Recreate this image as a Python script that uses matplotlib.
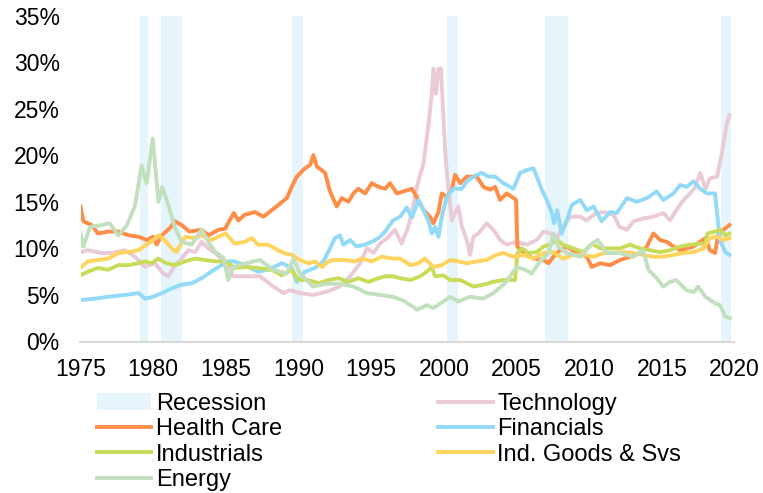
import matplotlib
matplotlib.use("Agg")
import matplotlib.pyplot as plt
from matplotlib.patches import Patch
from matplotlib.lines import Line2D

plt.rcParams['font.family'] = ['Liberation Sans', 'DejaVu Sans']

# Recession periods (as positioned on the chart's date axis)
recessions = [(1979.09, 1979.65), (1980.54, 1981.99), (1989.56, 1990.31),
              (2000.22, 2000.98), (2006.97, 2008.55), (2019.08, 2019.77)]

tech_x = [1975.0, 1975.5, 1976.46, 1977.15, 1978.06, 1978.75, 1979.44, 1980.13, 1980.7, 1981.04,
          1981.5, 1981.96, 1982.42, 1982.88, 1983.34, 1983.8, 1984.26, 1984.7, 1985.17, 1985.5,
          1986.4, 1987.35, 1988.27, 1988.96, 1989.4, 1990.1, 1991.0, 1991.94, 1992.85, 1993.55,
          1994.24, 1994.7, 1995.15, 1995.6, 1996.2, 1996.64, 1997.1, 1997.5, 1997.8, 1998.14,
          1998.6, 1998.93, 1999.17, 1999.28, 1999.46, 1999.63, 1999.8, 2000.1, 2000.3, 2000.55,
          2000.77, 2001.0, 2001.24, 2001.58, 2001.8, 2002.03, 2002.38, 2002.95, 2003.4, 2003.87,
          2004.33, 2005.0, 2005.7, 2006.4, 2006.85, 2007.3, 2007.77, 2008.2, 2008.7, 2009.4,
          2009.8, 2010.5, 2011.0, 2011.67, 2012.1, 2012.6, 2013.05, 2013.7, 2014.4, 2015.1,
          2015.57, 2016.0, 2016.5, 2016.95, 2017.3, 2017.64, 2018.0, 2018.3, 2018.8, 2019.13,
          2019.47, 2019.65]
tech_y = [9.6, 9.8, 9.5, 9.5, 9.8, 9.1, 8.0, 8.4, 7.3, 7.0,
          8.2, 8.9, 9.8, 9.6, 10.7, 10.0, 9.5, 8.9, 8.2, 7.0,
          7.0, 7.0, 5.9, 5.2, 5.5, 5.2, 5.0, 5.35, 5.9, 7.0,
          8.4, 10.0, 9.5, 10.5, 11.25, 12.0, 10.5, 12.1, 13.8, 16.6,
          19.1, 23.1, 26.6, 29.3, 26.6, 29.3, 29.3, 20.2, 16.6, 13.0,
          13.8, 14.5, 12.3, 10.9, 9.3, 11.25, 11.6, 12.7, 12.0, 10.9,
          10.4, 10.7, 10.4, 10.9, 11.8, 11.6, 11.1, 12.3, 13.4, 13.4,
          13.0, 13.8, 13.9, 13.6, 12.3, 12.0, 12.9, 13.2, 13.4, 13.8,
          13.0, 14.1, 15.2, 15.9, 16.6, 18.1, 16.4, 17.5, 17.7, 20.2,
          23.4, 24.3]

hc_x = [1975.0, 1975.2, 1975.77, 1976.2, 1976.9, 1977.6, 1978.3, 1978.98, 1979.55, 1980.0,
        1980.24, 1980.6, 1981.16, 1981.5, 1981.96, 1982.5, 1983.34, 1983.8, 1984.5, 1984.95,
        1985.4, 1985.55, 1985.86, 1986.3, 1987.0, 1987.58, 1988.16, 1988.73, 1989.2, 1989.53,
        1989.88, 1990.45, 1990.8, 1991.02, 1991.26, 1991.83, 1992.17, 1992.63, 1992.98, 1993.43,
        1993.78, 1994.12, 1994.58, 1995.04, 1995.5, 1995.96, 1996.3, 1996.76, 1997.2, 1997.8,
        1998.14, 1998.6, 1999.05, 1999.28, 1999.63, 1999.86, 2000.2, 2000.55, 2000.77, 2001.12,
        2001.58, 2002.27, 2002.72, 2003.18, 2003.53, 2003.87, 2004.33, 2004.79, 2004.97, 2005.06,
        2005.47, 2006.16, 2006.85, 2007.2, 2007.54, 2008.0, 2008.46, 2009.15, 2009.84, 2010.18,
        2010.75, 2011.44, 2012.13, 2012.8, 2013.5, 2013.97, 2014.42, 2014.88, 2015.34, 2015.8,
        2016.26, 2016.72, 2017.18, 2017.64, 2018.0, 2018.3, 2018.66, 2018.9, 2019.24, 2019.65]
hc_y = [14.5, 12.9, 12.5, 11.6, 11.8, 11.8, 11.4, 11.25, 10.9, 11.25,
        10.4, 11.4, 12.2, 12.9, 12.5, 11.8, 12.0, 11.4, 12.0, 12.1,
        13.4, 13.8, 13.0, 13.6, 13.9, 13.4, 14.1, 14.8, 15.4, 16.6,
        17.7, 18.6, 18.95, 20.0, 18.8, 18.1, 16.1, 14.5, 15.4, 15.0,
        15.9, 16.4, 15.9, 17.0, 16.6, 16.4, 17.0, 15.9, 16.1, 16.4,
        15.5, 14.1, 13.4, 12.7, 13.9, 15.9, 15.5, 16.3, 17.9, 17.0,
        17.7, 17.7, 16.6, 16.3, 16.6, 15.2, 15.9, 15.4, 15.2, 10.2,
        9.5, 8.9, 8.75, 8.4, 9.1, 9.8, 10.2, 9.5, 9.1, 8.0,
        8.4, 8.2, 8.75, 9.1, 9.5, 10.2, 11.6, 10.9, 10.7, 10.2,
        9.8, 10.0, 10.2, 10.7, 11.1, 9.8, 9.5, 11.6, 12.0, 12.5]

fin_x = [1975.0, 1976.0, 1976.9, 1978.06, 1979.0, 1979.44, 1980.0, 1980.6, 1981.27, 1981.96,
         1982.65, 1983.34, 1984.0, 1984.7, 1985.17, 1985.6, 1986.3, 1987.2, 1987.9, 1988.85,
         1989.53, 1989.88, 1990.45, 1991.14, 1991.71, 1992.17, 1992.5, 1992.86, 1993.08, 1993.55,
         1994.0, 1994.58, 1995.04, 1995.5, 1995.96, 1996.5, 1997.0, 1997.45, 1997.8, 1998.25,
         1998.6, 1998.93, 1999.17, 1999.4, 1999.63, 1999.86, 2000.2, 2000.66, 2001.24, 2001.58,
         2002.03, 2002.6, 2003.07, 2003.53, 2004.1, 2004.79, 2005.25, 2005.7, 2006.16, 2006.4,
         2006.74, 2007.08, 2007.43, 2007.59, 2007.8, 2008.1, 2008.46, 2008.8, 2009.38, 2009.84,
         2010.3, 2010.87, 2011.44, 2011.9, 2012.6, 2013.28, 2013.97, 2014.65, 2015.1, 2015.8,
         2016.26, 2016.72, 2017.18, 2017.64, 2018.1, 2018.66, 2018.8, 2019.0, 2019.36, 2019.65]
fin_y = [4.45, 4.6, 4.8, 5.0, 5.2, 4.6, 4.8, 5.2, 5.7, 6.1,
         6.25, 6.8, 7.5, 8.2, 8.6, 8.6, 8.2, 7.5, 7.7, 8.4,
         7.9, 6.4, 7.5, 7.9, 8.6, 10.0, 11.1, 11.4, 10.4, 10.9,
         10.2, 10.4, 10.7, 11.1, 11.8, 13.0, 13.4, 14.4, 13.3, 15.2,
         14.1, 13.0, 11.6, 12.3, 11.25, 13.4, 15.5, 16.4, 16.4, 17.2,
         17.7, 18.1, 17.7, 17.7, 17.0, 16.4, 18.1, 18.4, 18.6, 17.7,
         16.3, 15.2, 13.8, 12.7, 14.1, 11.6, 13.0, 14.65, 15.2, 14.1,
         14.5, 12.9, 13.9, 13.8, 15.4, 15.0, 15.4, 16.1, 15.2, 15.9,
         16.8, 16.6, 17.2, 16.4, 15.9, 15.9, 13.8, 10.9, 9.6, 9.3]

ind_x = [1975.0, 1975.5, 1976.2, 1976.9, 1977.6, 1978.3, 1978.98, 1979.44, 1979.9, 1980.36,
         1980.9, 1981.5, 1982.2, 1982.88, 1983.57, 1984.26, 1984.95, 1985.6, 1986.3, 1987.2,
         1988.16, 1988.85, 1989.53, 1989.99, 1990.7, 1991.37, 1992.06, 1992.75, 1993.43, 1994.12,
         1994.81, 1995.5, 1996.0, 1996.5, 1997.0, 1997.7, 1998.37, 1998.83, 1999.17, 1999.4,
         1999.97, 2000.43, 2001.12, 2001.58, 2002.03, 2002.72, 2003.4, 2004.1, 2004.9, 2005.06,
         2005.37, 2005.82, 2006.4, 2006.85, 2007.3, 2007.77, 2008.2, 2008.9, 2009.6, 2010.2,
         2010.75, 2011.44, 2012.13, 2012.8, 2013.5, 2014.2, 2014.88, 2015.57, 2016.26, 2016.95,
         2017.64, 2018.0, 2018.14, 2018.66, 2019.0, 2019.36, 2019.65]
ind_y = [7.1, 7.5, 7.9, 7.7, 8.2, 8.2, 8.4, 8.6, 8.4, 8.9,
         8.4, 8.2, 8.6, 8.9, 8.75, 8.6, 8.6, 7.9, 8.0, 7.9,
         7.7, 7.1, 7.7, 6.6, 6.6, 6.25, 6.6, 6.8, 6.4, 6.8,
         6.4, 6.8, 7.0, 7.0, 6.8, 6.6, 7.0, 7.5, 8.0, 7.0,
         7.1, 6.6, 6.6, 6.25, 5.9, 6.1, 6.4, 6.6, 6.6, 9.5,
         10.0, 9.5, 9.6, 10.2, 10.4, 10.9, 10.4, 10.0, 9.6, 10.5,
         10.0, 10.0, 10.0, 10.4, 10.0, 9.8, 9.6, 9.8, 10.2, 10.4,
         10.5, 10.5, 11.6, 11.8, 12.0, 11.4, 11.6]

igs_x = [1975.0, 1975.5, 1976.2, 1976.9, 1977.6, 1978.3, 1978.98, 1979.55, 1980.0, 1980.36,
         1980.8, 1981.27, 1981.6, 1982.2, 1982.88, 1983.34, 1984.0, 1984.7, 1985.0, 1985.6,
         1986.3, 1986.8, 1987.2, 1987.9, 1988.6, 1989.0, 1989.53, 1990.1, 1990.7, 1991.14,
         1991.6, 1992.06, 1992.5, 1993.2, 1993.9, 1994.35, 1995.04, 1995.73, 1996.5, 1997.0,
         1997.7, 1998.25, 1998.7, 1999.28, 1999.86, 2000.43, 2001.0, 2001.58, 2002.27, 2002.95,
         2003.6, 2004.1, 2004.79, 2005.47, 2006.16, 2006.85, 2007.54, 2008.2, 2008.9, 2009.6,
         2010.3, 2011.0, 2011.67, 2012.37, 2013.05, 2013.7, 2014.4, 2015.1, 2015.8, 2016.5,
         2017.18, 2017.87, 2018.3, 2018.8, 2019.24, 2019.65]
igs_y = [7.9, 8.6, 8.75, 8.9, 9.5, 9.6, 9.8, 10.4, 10.9, 11.4,
         10.9, 10.0, 9.6, 11.25, 11.1, 11.4, 10.9, 11.4, 11.6, 10.5,
         10.7, 11.1, 10.4, 10.4, 9.8, 9.5, 9.3, 8.75, 8.4, 8.6,
         8.0, 8.6, 8.75, 8.75, 8.6, 8.9, 8.6, 9.1, 8.9, 8.9,
         8.2, 8.4, 8.9, 8.0, 8.2, 8.75, 8.6, 8.4, 8.6, 8.75,
         9.3, 9.5, 9.1, 9.3, 8.9, 9.5, 9.6, 8.9, 9.3, 9.3,
         9.1, 9.5, 9.5, 9.6, 9.5, 9.3, 9.1, 9.1, 9.3, 9.5,
         9.6, 10.0, 11.1, 11.25, 10.9, 11.1]

en_x = [1975.0, 1975.2, 1975.65, 1976.46, 1977.0, 1977.6, 1978.2, 1978.75, 1979.2, 1979.55,
        1979.97, 1980.36, 1980.63, 1981.04, 1981.5, 1981.96, 1982.65, 1983.34, 1983.8, 1984.26,
        1984.83, 1985.17, 1985.5, 1986.4, 1987.35, 1988.25, 1989.2, 1989.65, 1990.1, 1991.0,
        1991.94, 1992.85, 1993.77, 1994.7, 1995.6, 1996.5, 1997.2, 1997.9, 1998.14, 1998.83,
        1999.28, 1999.97, 2000.43, 2001.0, 2001.8, 2002.7, 2003.4, 2004.1, 2004.56, 2005.0,
        2005.6, 2006.05, 2006.6, 2007.2, 2007.54, 2007.88, 2008.46, 2009.4, 2010.2, 2010.6,
        2011.2, 2012.1, 2013.05, 2013.7, 2014.08, 2014.65, 2015.1, 2015.57, 2016.0, 2016.7,
        2017.2, 2017.5, 2018.0, 2018.67, 2019.0, 2019.36, 2019.7]
en_y = [11.6, 10.2, 12.3, 12.5, 12.7, 11.4, 12.5, 14.6, 18.9, 17.0,
        21.8, 15.0, 16.6, 14.7, 12.2, 10.7, 10.4, 12.0, 10.7, 9.6,
        9.0, 6.6, 8.0, 8.4, 8.75, 7.7, 7.3, 8.9, 7.3, 5.9,
        6.2, 6.2, 5.9, 5.2, 5.0, 4.8, 4.4, 3.7, 3.4, 3.9,
        3.6, 4.3, 4.8, 4.3, 4.8, 4.6, 5.2, 6.1, 7.0, 8.0,
        7.7, 7.3, 8.6, 9.5, 11.6, 10.2, 9.5, 9.1, 10.5, 10.9,
        9.5, 9.5, 9.1, 9.8, 7.7, 6.8, 5.9, 6.4, 6.6, 5.5,
        5.3, 5.9, 4.8, 4.1, 3.9, 2.7, 2.5]

years = [1975, 1980, 1985, 1990, 1995, 2000, 2005, 2010, 2015, 2020]
yticks = [0, 5, 10, 15, 20, 25, 30, 35]

c_rec = '#E6F4FB'
c_tech = '#EACAD6'
c_hc = '#FF8D47'
c_fin = '#93D9F8'
c_ind = '#C9DC5A'
c_igs = '#FFD45E'
c_en = '#C2DFBE'
lw = 2.8

fig = plt.figure(figsize=(7.63, 4.93), dpi=100)
ax = fig.add_axes([80.5 / 763, 1 - 341.5 / 493, 654 / 763, 326 / 493])

for a, b in recessions:
    ax.axvspan(a, b, color=c_rec, lw=0, zorder=0)

ax.plot(tech_x, tech_y, color=c_tech, lw=lw, zorder=2)
ax.plot(hc_x, hc_y, color=c_hc, lw=lw, zorder=3)
ax.plot(fin_x, fin_y, color=c_fin, lw=lw, zorder=3)
ax.plot(ind_x, ind_y, color=c_ind, lw=lw, zorder=3)
ax.plot(igs_x, igs_y, color=c_igs, lw=lw, zorder=3)
ax.plot(en_x, en_y, color=c_en, lw=lw, zorder=4)

ax.set_xlim(1975, 2020)
ax.set_ylim(0, 35)
ax.set_xticks(years)
ax.set_xticklabels([str(y) for y in years])
ax.set_yticks(yticks)
ax.set_yticklabels([f"{v}%" for v in yticks])
ax.tick_params(axis='both', length=0, labelsize=16.5, colors='black')
ax.tick_params(axis='y', pad=15)
ax.tick_params(axis='x', pad=12)
for s in ['top', 'right', 'left']:
    ax.spines[s].set_visible(False)
ax.spines['bottom'].set_color('#D9D9D9')
ax.spines['bottom'].set_linewidth(1.5)

handles = [Patch(facecolor=c_rec, edgecolor='none'),
           Line2D([], [], color=c_hc, lw=lw),
           Line2D([], [], color=c_ind, lw=lw),
           Line2D([], [], color=c_en, lw=lw),
           Line2D([], [], color=c_tech, lw=lw),
           Line2D([], [], color=c_fin, lw=lw),
           Line2D([], [], color=c_igs, lw=lw)]
labels = ['Recession', 'Health Care', 'Industrials', 'Energy',
          'Technology', 'Financials', 'Ind. Goods & Svs']
fig.legend(handles, labels, ncol=2, loc='upper left', bbox_to_anchor=(97 / 763, 1 - 393 / 493),
           frameon=False, fontsize=17, handlelength=2.3, handletextpad=0.21,
           columnspacing=6.6, labelspacing=0.14, borderpad=0, borderaxespad=0)

fig.savefig('out.png', dpi=100)
